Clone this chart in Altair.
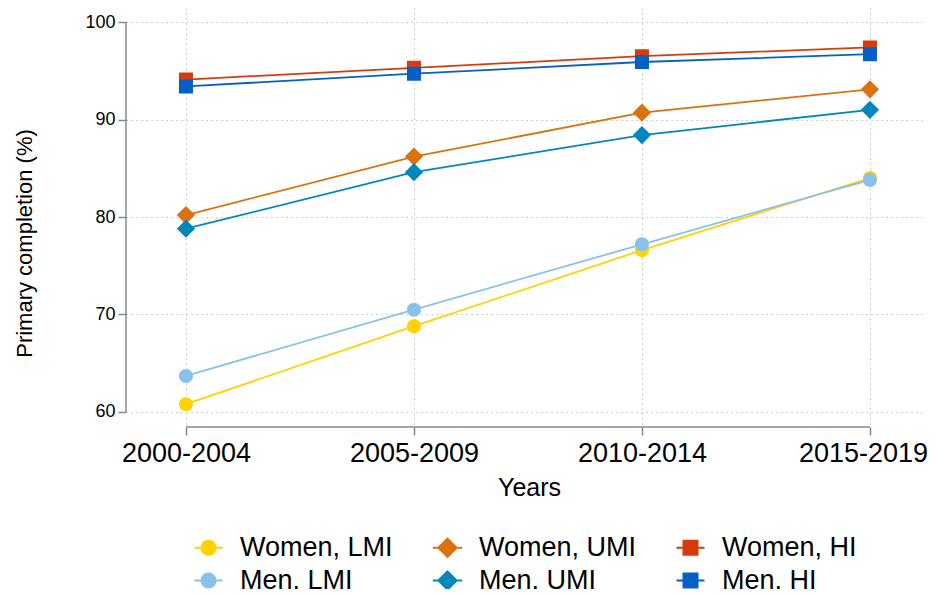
import altair as alt
import pandas as pd

periods = ["2000-2004", "2005-2009", "2010-2014", "2015-2019"]
series_order = ["Women, LMI", "Men, LMI", "Women, UMI", "Men, UMI", "Women, HI", "Men, HI"]
legend_order = ["Women, LMI", "Women, UMI", "Women, HI", "Men, LMI", "Men, UMI", "Men, HI"]

women_lmi = [60.8, 68.8, 76.6, 84.0]
men_lmi = [63.7, 70.5, 77.2, 83.8]
women_umi = [80.2, 86.2, 90.7, 93.1]
men_umi = [78.8, 84.6, 88.4, 91.0]
women_hi = [94.1, 95.3, 96.5, 97.4]
men_hi = [93.4, 94.7, 95.9, 96.7]

values = {
    "Women, LMI": women_lmi, "Men, LMI": men_lmi,
    "Women, UMI": women_umi, "Men, UMI": men_umi,
    "Women, HI": women_hi, "Men, HI": men_hi,
}
colors = {
    "Women, LMI": "#FFD200", "Women, UMI": "#D9730D", "Women, HI": "#D63C0B",
    "Men, LMI": "#88C1EA", "Men, UMI": "#0088BC", "Men, HI": "#0560C6",
}
k = 0.5523
circle = (f"M-2,0H-1M-1,0C-1,-{k},-{k},-1,0,-1C{k},-1,1,-{k},1,0C1,{k},{k},1,0,1C-{k},1,-1,{k},-1,0ZM1,0H2")
diamond = "M-2.1,0H-1.3M-1.3,0L0,-1.3L1.3,0L0,1.3ZM1.3,0H2.1"
square = "M-2,0H-1M-1,-1H1V1H-1ZM1,0H2"
shapes = {
    "Women, LMI": circle, "Men, LMI": circle,
    "Women, UMI": diamond, "Men, UMI": diamond,
    "Women, HI": square, "Men, HI": square,
}

rows = []
for s in series_order:
    for i, p in enumerate(periods):
        rows.append({"series": s, "idx": i, "period": p, "value": values[s][i],
                     "order": series_order.index(s)})
df = pd.DataFrame(rows)

W, H = 797, 419
Y_LO, Y_HI = 58.46, 101.44
X_LO = -0.263
X_HI = X_LO + W / 228.0
FONT = "Liberation Sans"

color_scale = alt.Scale(domain=legend_order, range=[colors[s] for s in legend_order])
shape_scale = alt.Scale(domain=legend_order, range=[shapes[s] for s in legend_order])

x_enc = alt.X("idx:Q", scale=alt.Scale(domain=[X_LO, X_HI], nice=False, zero=False),
              axis=alt.Axis(values=[0, 1, 2, 3], title="Years",
                            labelExpr="['2000-2004','2005-2009','2010-2014','2015-2019'][datum.value]",
                            domain=False, tickSize=8, tickColor="#888888", tickWidth=1.5,
                            labelFontSize=27, labelPadding=5, labelColor="#000000",
                            labelOffset=alt.ExprRef(expr="datum.value == 3 ? -7 : 0"),
                            titleFontSize=25, titleFontWeight="normal", titlePadding=9,
                            titleColor="#000000", titleX=403,
                            grid=True, gridDash=[1.2, 3.8], gridColor="#b0b0b0", gridWidth=1))
y_enc = alt.Y("value:Q", scale=alt.Scale(domain=[Y_LO, Y_HI], nice=False, zero=False),
              axis=alt.Axis(values=[60, 70, 80, 90, 100], title="Primary completion (%)",
                            domain=False, tickSize=8, tickColor="#888888", tickWidth=1.5,
                            labelFontSize=18, labelPadding=3, labelColor="#000000",
                            titleFontSize=22, titleFontWeight="normal", titleColor="#000000",
                            titleX=-102, titleY=235, titleBaseline="middle", titleAngle=270,
                            grid=True, gridDash=[1.2, 3.8], gridColor="#b0b0b0", gridWidth=1))

legend = alt.Legend(title=None, orient="none", legendX=69, legendY=526, columns=3,
                    direction="horizontal", symbolType=circle,
                    symbolSize=196, symbolStrokeWidth=2, labelFontSize=27, labelFont=FONT,
                    labelOffset=18, columnPadding=35, rowPadding=5, labelColor="#000000")

base = alt.Chart(df)

lines = base.mark_line(strokeWidth=1.8).encode(
    x=x_enc, y=y_enc,
    stroke=alt.Stroke("series:N", scale=color_scale, legend=legend),
    detail="series:N",
    order="idx:Q",
)
points = base.mark_point(filled=True, size=196, opacity=1, strokeWidth=0).encode(
    x=alt.X("idx:Q"), y=alt.Y("value:Q"),
    fill=alt.Fill("series:N", scale=color_scale, legend=legend),
    stroke=alt.Stroke("series:N", scale=color_scale, legend=legend),
    shape=alt.Shape("series:N", scale=shape_scale, legend=legend),
    order=alt.Order("order:Q"),
)

axis_df = pd.DataFrame({"a": [0]})
y_axis_line = alt.Chart(axis_df).mark_rule(color="#888888", strokeWidth=1.5).encode(
    x=alt.value(0), y=alt.datum(60), y2=alt.datum(100))
x_axis_line = alt.Chart(axis_df).mark_rule(color="#888888", strokeWidth=1.5).encode(
    x=alt.datum(0), x2=alt.datum(3), y=alt.value(H))

chart = alt.layer(y_axis_line, x_axis_line, lines, points).properties(
    width=W, height=H,
    autosize=alt.AutoSizeParams(type="none"),
    padding={"left": 118, "top": 0, "right": 6, "bottom": 162},
).configure(font=FONT).configure_view(stroke=None)

chart.save("out.html", embed_options={"renderer": "svg", "actions": False})
